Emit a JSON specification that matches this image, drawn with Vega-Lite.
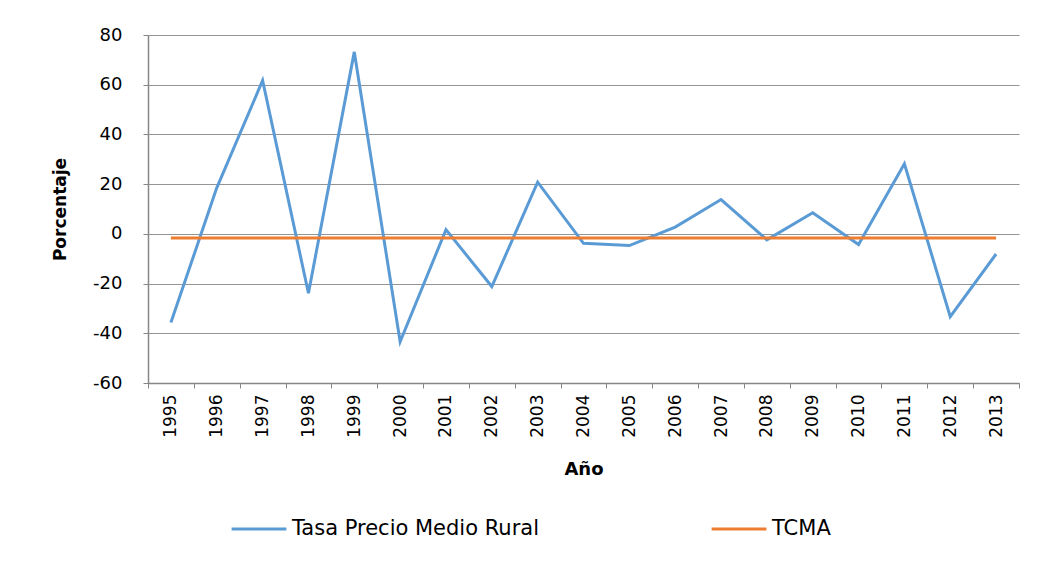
{
  "$schema": "https://vega.github.io/schema/vega-lite/v6.json",
  "width": 871,
  "height": 348,
  "autosize": {"type": "none"},
  "padding": {"left": 148, "top": 35, "right": 26, "bottom": 182},
  "background": "white",
  "config": {
    "view": {"stroke": null},
    "font": "DejaVu Sans"
  },
  "data": {
    "values": [
      {"year": "1995", "serie": "Tasa Precio Medio Rural", "value": -35.7},
      {"year": "1996", "serie": "Tasa Precio Medio Rural", "value": 18.5},
      {"year": "1997", "serie": "Tasa Precio Medio Rural", "value": 61.7},
      {"year": "1998", "serie": "Tasa Precio Medio Rural", "value": -23.9},
      {"year": "1999", "serie": "Tasa Precio Medio Rural", "value": 73.2},
      {"year": "2000", "serie": "Tasa Precio Medio Rural", "value": -43.4},
      {"year": "2001", "serie": "Tasa Precio Medio Rural", "value": 1.7},
      {"year": "2002", "serie": "Tasa Precio Medio Rural", "value": -21.2},
      {"year": "2003", "serie": "Tasa Precio Medio Rural", "value": 20.8},
      {"year": "2004", "serie": "Tasa Precio Medio Rural", "value": -3.8},
      {"year": "2005", "serie": "Tasa Precio Medio Rural", "value": -4.7},
      {"year": "2006", "serie": "Tasa Precio Medio Rural", "value": 2.7},
      {"year": "2007", "serie": "Tasa Precio Medio Rural", "value": 13.8},
      {"year": "2008", "serie": "Tasa Precio Medio Rural", "value": -2.4},
      {"year": "2009", "serie": "Tasa Precio Medio Rural", "value": 8.5},
      {"year": "2010", "serie": "Tasa Precio Medio Rural", "value": -4.3},
      {"year": "2011", "serie": "Tasa Precio Medio Rural", "value": 28.2},
      {"year": "2012", "serie": "Tasa Precio Medio Rural", "value": -33.3},
      {"year": "2013", "serie": "Tasa Precio Medio Rural", "value": -8.1},
      {"year": "1995", "serie": "TCMA", "value": -1.7},
      {"year": "1996", "serie": "TCMA", "value": -1.7},
      {"year": "1997", "serie": "TCMA", "value": -1.7},
      {"year": "1998", "serie": "TCMA", "value": -1.7},
      {"year": "1999", "serie": "TCMA", "value": -1.7},
      {"year": "2000", "serie": "TCMA", "value": -1.7},
      {"year": "2001", "serie": "TCMA", "value": -1.7},
      {"year": "2002", "serie": "TCMA", "value": -1.7},
      {"year": "2003", "serie": "TCMA", "value": -1.7},
      {"year": "2004", "serie": "TCMA", "value": -1.7},
      {"year": "2005", "serie": "TCMA", "value": -1.7},
      {"year": "2006", "serie": "TCMA", "value": -1.7},
      {"year": "2007", "serie": "TCMA", "value": -1.7},
      {"year": "2008", "serie": "TCMA", "value": -1.7},
      {"year": "2009", "serie": "TCMA", "value": -1.7},
      {"year": "2010", "serie": "TCMA", "value": -1.7},
      {"year": "2011", "serie": "TCMA", "value": -1.7},
      {"year": "2012", "serie": "TCMA", "value": -1.7},
      {"year": "2013", "serie": "TCMA", "value": -1.7}
    ]
  },
  "mark": {"type": "line", "strokeWidth": 3, "strokeJoin": "miter"},
  "encoding": {
    "x": {
      "field": "year",
      "type": "ordinal",
      "scale": {"type": "band", "paddingInner": 0, "paddingOuter": 0},
      "axis": {
        "title": "Año",
        "titleFont": "DejaVu Sans",
        "titleFontSize": 18,
        "titleFontWeight": "bold",
        "titleColor": "#000000",
        "titlePadding": 23,
        "labelAngle": -90,
        "labelFontSize": 17,
        "labelColor": "#000000",
        "labelFont": "DejaVu Sans",
        "labelPadding": 6,
        "tickBand": "extent",
        "tickSize": 5,
        "tickColor": "#868686",
        "domainColor": "#868686",
        "domainWidth": 1.5,
        "grid": false
      }
    },
    "y": {
      "field": "value",
      "type": "quantitative",
      "scale": {"domain": [-60, 80], "nice": false, "zero": false},
      "axis": {
        "title": "Porcentaje",
        "titleFont": "DejaVu Sans",
        "titleFontSize": 17,
        "titleFontWeight": "bold",
        "titleColor": "#000000",
        "titlePadding": 23,
        "values": [-60, -40, -20, 0, 20, 40, 60, 80],
        "labelExpr": "datum.value + ''",
        "labelFontSize": 18,
        "labelColor": "#000000",
        "labelFont": "DejaVu Sans",
        "labelPadding": 21,
        "tickSize": 5,
        "tickColor": "#868686",
        "domainColor": "#868686",
        "domainWidth": 1.5,
        "grid": true,
        "gridColor": "#949494",
        "gridWidth": 1.2
      }
    },
    "color": {
      "field": "serie",
      "type": "nominal",
      "scale": {"domain": ["Tasa Precio Medio Rural", "TCMA"], "range": ["#5B9BD5", "#ED7D31"]},
      "legend": {
        "title": null,
        "orient": "none",
        "legendX": 82,
        "legendY": 465,
        "direction": "horizontal",
        "symbolType": "stroke",
        "symbolSize": 3000,
        "symbolStrokeWidth": 3,
        "labelFontSize": 21,
        "labelFont": "DejaVu Sans",
        "labelColor": "#000000",
        "labelOffset": 4,
        "columnPadding": 165,
        "labelLimit": 400
      }
    }
  }
}
